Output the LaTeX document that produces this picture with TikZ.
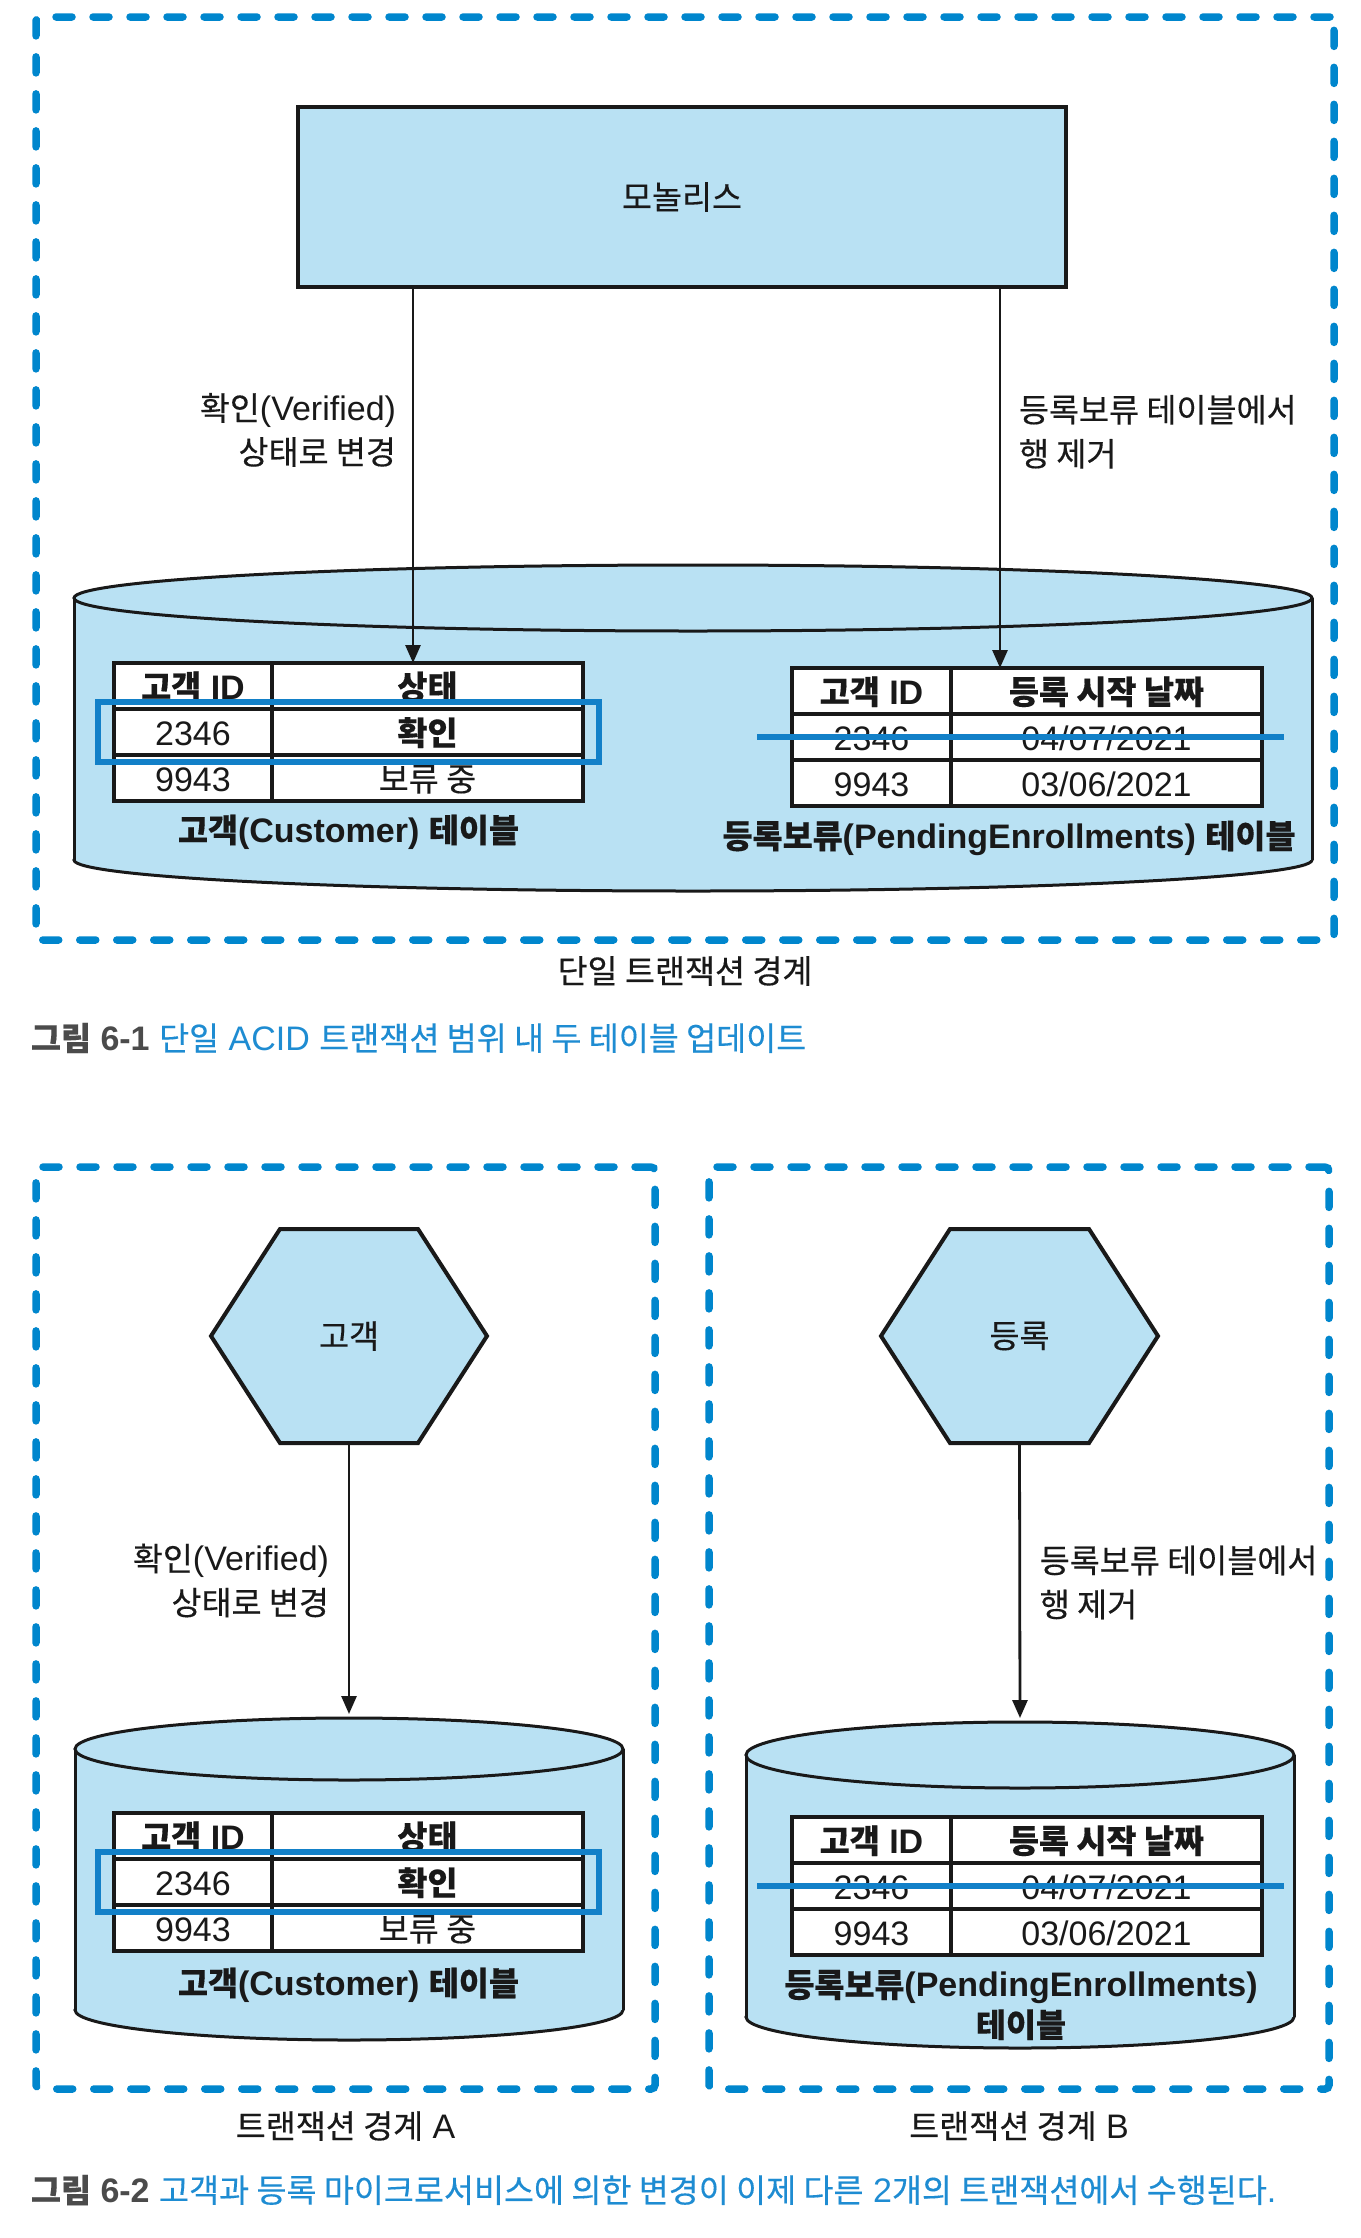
\documentclass[tikz,border=0pt]{standalone}
\usepackage{fontspec}
\setmainfont{Liberation Sans}
\newfontfamily\kr{Noto Sans CJK KR}[Scale=0.96, FakeBold=0.3]
\usetikzlibrary{arrows.meta,fit,calc,backgrounds}
\definecolor{lb}{RGB}{185,225,243}
\definecolor{dashblue}{RGB}{0,134,205}
\definecolor{hlblue}{RGB}{18,128,200}
\definecolor{capblue}{RGB}{30,140,210}
\definecolor{capgray}{RGB}{75,75,75}
\definecolor{ink}{RGB}{25,25,25}
\newcommand\hg[1]{{\kr #1}}
\newcommand\cyl[6]{%
  \draw[cylline, fill=lb] ({(#1+#2)/2},#4) ellipse [x radius={(#2-#1)/2*1pt}, y radius=#6pt];
  \fill[lb] (#1,#3) rectangle (#2,#4);
  \draw[cylline] (#1,#3) -- (#1,#4) (#2,#3) -- (#2,#4);
  \draw[cylline, fill=lb] ({(#1+#2)/2},#3) ellipse [x radius={(#2-#1)/2*1pt}, y radius=#5pt];
}
\begin{document}
\begin{tikzpicture}[x=1pt,y=-1pt,
  every node/.style={font=\fontsize{34pt}{42pt}\selectfont, text=ink, inner sep=0pt, outer sep=0pt},
  bound/.style={draw=dashblue, line width=7.5pt, dash pattern=on 16pt off 21pt, line cap=round, rounded corners=4pt},
  monobox/.style={draw=ink, fill=lb, line width=4pt},
  cylline/.style={draw=ink, line width=3pt},
  hexline/.style={draw=ink, fill=lb, line width=4pt, line join=miter},
  cell/.style={draw=ink, fill=white, line width=4pt, minimum height=46pt, text height=26pt, text depth=0pt, anchor=north west},
  colA/.style={minimum width=158pt},
  colB/.style={minimum width=311pt},
  bold/.style={font=\fontsize{34pt}{42pt}\selectfont\bfseries},
  hl/.style={draw=hlblue, line width=6pt, inner xsep=16pt, inner ysep=7pt},
  strike/.style={draw=hlblue, line width=6.5pt},
  conn/.style={draw=ink, line width=2.8pt, -{Triangle[width=15pt,length=18pt]}},
  lbl/.style={font=\fontsize{34pt}{44pt}\selectfont}
]
\begin{scope}[on background layer]
  \fill[white] (0,0) rectangle (1360,2238);
\end{scope}
\useasboundingbox (0,0) rectangle (1360,2238);

% ---------------- Figure 6-1 ----------------
\node[bound, minimum width=1298pt, minimum height=923pt, anchor=north west] (b1) at (36,17) {};
\node[monobox, minimum width=768pt, minimum height=180pt] (mono) at (682,197) {\hg{모놀리스}};

\cyl{74}{1312}{598}{860}{33}{31}

% customer table
\node[cell,colA,bold] (t1a1) at (114,663) {\hg{고객} ID};
\node[cell,colB,bold] (t1b1) at (t1a1.north east) {\hg{상태}};
\node[cell,colA] (t1a2) at (t1a1.south west) {2346};
\node[cell,colB,bold] (t1b2) at (t1a2.north east) {\hg{확인}};
\node[cell,colA] (t1a3) at (t1a2.south west) {9943};
\node[cell,colB] (t1b3) at (t1a3.north east) {\hg{보류 중}};
\node[hl, fit=(t1a2)(t1b2)] (hl1) {};
\path ($(t1a3.south west)!0.5!(t1b3.south east)$) ++(0,31) node[bold] (t1lbl) {\hg{고객}(Customer) \hg{테이블}};

% pending table
\node[cell,colA,minimum width=159pt,bold] (t2a1) at (792,668) {\hg{고객} ID};
\node[cell,colB,bold] (t2b1) at (t2a1.north east) {\hg{등록 시작 날짜}};
\node[cell,colA,minimum width=159pt] (t2a2) at (t2a1.south west) {2346};
\node[cell,colB] (t2b2) at (t2a2.north east) {04/07/2021};
\node[cell,colA,minimum width=159pt] (t2a3) at (t2a2.south west) {9943};
\node[cell,colB] (t2b3) at (t2a3.north east) {03/06/2021};
\draw[strike] ([xshift=-35pt]t2a2.west) -- ([xshift=22pt]t2b2.east);
\path ($(t2a3.south west)!0.5!(t2b3.south east)$) ++(-18,32) node[bold] (t2lbl) {\hg{등록보류}(PendingEnrollments) \hg{테이블}};

% connectors
\coordinate (m1) at ([xshift=115pt]mono.south west);
\coordinate (m2) at ([xshift=-66pt]mono.south east);
\draw[conn] (m1) -- (m1 |- t1b1.north)
  node[lbl, pos=0.38, anchor=east, xshift=-17pt, align=right] (l1) {\hg{확인}(Verified)\\\hg{상태로 변경}};
\draw[conn] (m2) -- (m2 |- t2b1.north)
  node[lbl, pos=0.38, anchor=west, xshift=19pt, align=left] (l2) {\hg{등록보류 테이블에서}\\\hg{행 제거}};

\node (lbl1) at ([yshift=-31pt]b1.south) {\hg{단일 트랜잭션 경계}};
\node[anchor=west] (cap1) at (31,1038) {{\bfseries\color{capgray}\hg{그림} 6-1} {\color{capblue}\hg{단일} ACID \hg{트랜잭션 범위 내 두 테이블 업데이트}}};

% ---------------- Figure 6-2 ----------------
\node[bound, minimum width=619pt, minimum height=922pt, anchor=north west] (bA) at (36,1167) {};
\node[bound, minimum width=620pt, minimum height=922pt, anchor=north west] (bB) at (709,1167) {};

\node[minimum width=276pt, minimum height=214pt] (hexA) at (349,1336) {\hg{고객}};
\node[minimum width=277pt, minimum height=214pt] (hexB) at (1019.5,1336) {\hg{등록}};
\begin{scope}[on background layer]
  \draw[hexline] ([xshift=69pt]hexA.north west) -- ([xshift=-69pt]hexA.north east) -- (hexA.east)
     -- ([xshift=-69pt]hexA.south east) -- ([xshift=69pt]hexA.south west) -- (hexA.west) -- cycle;
  \draw[hexline] ([xshift=69pt]hexB.north west) -- ([xshift=-69pt]hexB.north east) -- (hexB.east)
     -- ([xshift=-69pt]hexB.south east) -- ([xshift=69pt]hexB.south west) -- (hexB.west) -- cycle;
\end{scope}

\cyl{75}{623}{1749}{2010}{31}{30}
\cyl{746}{1294}{1755}{2017}{33}{31}
\coordinate (cylA) at (349,1718);
\coordinate (cylB) at (1020,1722);

% customer table A
\node[cell,colA,bold] (taa1) at (114,1813) {\hg{고객} ID};
\node[cell,colB,bold] (tab1) at (taa1.north east) {\hg{상태}};
\node[cell,colA] (taa2) at (taa1.south west) {2346};
\node[cell,colB,bold] (tab2) at (taa2.north east) {\hg{확인}};
\node[cell,colA] (taa3) at (taa2.south west) {9943};
\node[cell,colB] (tab3) at (taa3.north east) {\hg{보류 중}};
\node[hl, fit=(taa2)(tab2)] (hl2) {};
\path ($(taa3.south west)!0.5!(tab3.south east)$) ++(0,34) node[bold] (talbl) {\hg{고객}(Customer) \hg{테이블}};

% pending table B
\node[cell,colA,minimum width=159pt,bold] (tba1) at (792,1817) {\hg{고객} ID};
\node[cell,colB,bold] (tbb1) at (tba1.north east) {\hg{등록 시작 날짜}};
\node[cell,colA,minimum width=159pt] (tba2) at (tba1.south west) {2346};
\node[cell,colB] (tbb2) at (tba2.north east) {04/07/2021};
\node[cell,colA,minimum width=159pt] (tba3) at (tba2.south west) {9943};
\node[cell,colB] (tbb3) at (tba3.north east) {03/06/2021};
\draw[strike] ([xshift=-35pt]tba2.west) -- ([xshift=22pt]tbb2.east);
\path ($(tba3.south west)!0.5!(tbb3.south east)$) ++(-6,50)
  node[bold, align=center, font=\fontsize{34pt}{40pt}\selectfont\bfseries] (tblbl) {\hg{등록보류}(PendingEnrollments)\\\hg{테이블}};

% connectors
\draw[conn, shorten >=4pt] (hexA.south) -- (cylA)
  node[lbl, pos=0.5, anchor=east, xshift=-20pt, align=right] (l3) {\hg{확인}(Verified)\\\hg{상태로 변경}};
\draw[conn, shorten >=4pt] (hexB.south) -- (cylB)
  node[lbl, pos=0.5, anchor=west, xshift=20pt, align=left] (l4) {\hg{등록보류 테이블에서}\\\hg{행 제거}};

\node (capA) at ([yshift=-37pt]bA.south) {\hg{트랜잭션 경계} A};
\node (capB) at ([yshift=-37pt]bB.south) {\hg{트랜잭션 경계} B};
\node[anchor=west] (cap2) at (31,2190) {{\bfseries\color{capgray}\hg{그림} 6-2} {\color{capblue}\hg{고객과 등록 마이크로서비스에 의한 변경이 이제 다른} 2\hg{개의 트랜잭션에서 수행된다}.}};
\end{tikzpicture}
\end{document}
